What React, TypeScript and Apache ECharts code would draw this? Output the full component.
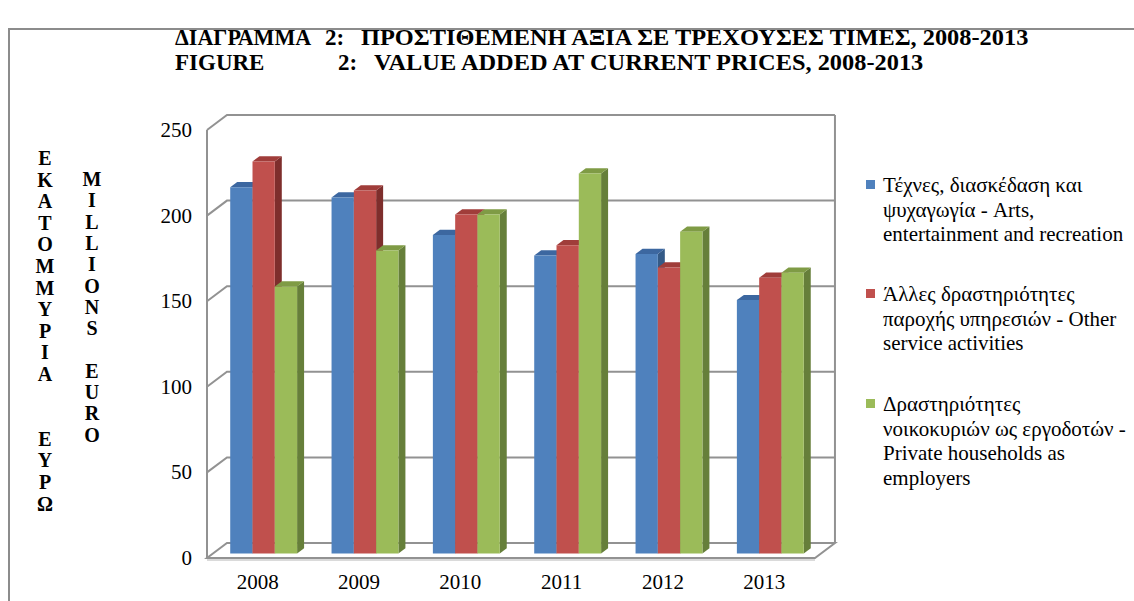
import React, { useEffect, useRef } from 'react';
import * as echarts from 'echarts';

const years = ['2008', '2009', '2010', '2011', '2012', '2013'];
const arts = [214, 208, 186, 174, 175, 148];
const otherServices = [229, 212, 198, 180, 167, 161];
const households = [156, 177, 198, 222, 188, 164];
const yTicks = [0, 50, 100, 150, 200, 250];

const seriesNames = [
  'Τέχνες, διασκέδαση και\nψυχαγωγία - Arts,\nentertainment and recreation',
  'Άλλες δραστηριότητες\nπαροχής υπηρεσιών - Other\nservice activities',
  'Δραστηριότητες\nνοικοκυριών ως εργοδοτών -\nPrivate households as\nemployers',
];

const yTitleGreek = 'ΕΚΑΤΟΜΜΥΡΙΑ  ΕΥΡΩ';
const yTitleEnglish = 'MILLIONS EURO';

const palette = [
  { front: '#4F81BD', top: '#3C67A0', side: '#345A87' },
  { front: '#C0504D', top: '#A03D3A', side: '#7E2E2C' },
  { front: '#9BBB59', top: '#7F9B45', side: '#667F3A' },
];

const FONT = "'Liberation Serif', 'Times New Roman', serif";
const GRID_COLOR = '#929292';

// depth geometry as fraction of one category band
const DEPTH_X = 0.197;
const DEPTH_Y = 0.148;
const BAR_FRONT = 0.3;
const BAR_DEPTH = 0.35;
const BAR_W = 0.22;

function frameRender(params: any, api: any) {
  const cs = params.coordSys;
  const band = api.size([1, 0])[0];
  const dx = band * DEPTH_X;
  const dy = band * DEPTH_Y;
  const x0 = cs.x;
  const x1 = cs.x + cs.width;
  const children: any[] = [];
  const y0 = api.coord([0, 0])[1];
  const yTop = api.coord([0, yTicks[yTicks.length - 1]])[1];
  children.push({
    type: 'polygon',
    shape: { points: [[x0, y0], [x1, y0], [x1 + dx, y0 - dy], [x0 + dx, y0 - dy]] },
    style: { fill: '#ffffff', stroke: GRID_COLOR, lineWidth: 2 },
  });
  children.push({
    type: 'line',
    shape: { x1: x0, y1: y0 + 2, x2: x1, y2: y0 + 2 },
    style: { stroke: '#b5b5b5', lineWidth: 1 },
  });
  children.push({
    type: 'line',
    shape: { x1: x0, y1: y0, x2: x0, y2: yTop },
    style: { stroke: GRID_COLOR, lineWidth: 2 },
  });
  children.push({
    type: 'line',
    shape: { x1: x1 + dx, y1: y0 - dy, x2: x1 + dx, y2: yTop - dy },
    style: { stroke: GRID_COLOR, lineWidth: 2 },
  });
  yTicks.forEach((v) => {
    if (v === 0) return;
    const y = api.coord([0, v])[1];
    children.push({
      type: 'polyline',
      shape: { points: [[x0, y], [x0 + dx, y - dy], [x1 + dx, y - dy]] },
      style: { stroke: GRID_COLOR, lineWidth: 2, fill: null },
    });
  });
  return { type: 'group', children };
}

function makeBarRender(idx: number) {
  const c = palette[idx];
  return (params: any, api: any) => {
    const cat = api.value(0);
    const val = api.value(1);
    const band = api.size([1, 0])[0];
    const [cx, yv] = api.coord([cat, val]);
    const yb = api.coord([cat, 0])[1];
    const fdx = band * DEPTH_X * BAR_FRONT;
    const fdy = band * DEPTH_Y * BAR_FRONT;
    const bdx = band * DEPTH_X * BAR_DEPTH;
    const bdy = band * DEPTH_Y * BAR_DEPTH;
    const w = band * BAR_W;
    const x = cx + fdx - 1.5 * w + idx * w;
    const yT = yv - fdy;
    const yB = yb - fdy;
    return {
      type: 'group',
      children: [
        {
          type: 'polygon',
          shape: { points: [[x + w, yT], [x + w + bdx, yT - bdy], [x + w + bdx, yB - bdy], [x + w, yB]] },
          style: { fill: c.side },
        },
        {
          type: 'polygon',
          shape: { points: [[x, yT], [x + bdx, yT - bdy], [x + w + bdx, yT - bdy], [x + w, yT]] },
          style: { fill: c.top },
        },
        {
          type: 'rect',
          shape: { x, y: yT, width: w, height: yB - yT },
          style: { fill: c.front },
        },
      ],
    };
  };
}

const seriesValues = [arts, otherServices, households];

function buildLegend(): any[] {
  const firstLineY = [185, 294, 404];
  const lh = 24.5;
  const out: any[] = [];
  seriesNames.forEach((name, i) => {
    out.push({
      type: 'rect',
      shape: { x: 866, y: firstLineY[i] - 5, width: 9, height: 9 },
      style: { fill: palette[i].front },
    });
    name.split('\n').forEach((line, k) => {
      out.push({
        type: 'text',
        x: 883,
        y: firstLineY[i] + k * lh,
        style: {
          text: line,
          fontFamily: FONT,
          fontSize: 21,
          fontWeight: 'normal',
          fill: '#000',
          verticalAlign: 'middle',
          align: 'left',
        },
      });
    });
  });
  return out;
}

function verticalLetters(str: string, cx: number, firstY: number, step: number): any[] {
  const out: any[] = [];
  Array.from(str).forEach((ch, i) => {
    if (ch === ' ') return;
    out.push({
      type: 'text',
      x: cx,
      y: firstY + i * step,
      style: { text: ch, fontFamily: FONT, fontSize: 20, fontWeight: 'bold', fill: '#000', align: 'center', verticalAlign: 'middle' },
    });
  });
  return out;
}

function titleText(text: string, x: number, y: number, scaleX = 1) {
  return {
    type: 'text',
    x,
    y,
    scaleX,
    style: { text, fontFamily: FONT, fontSize: 23, fontWeight: 'bold', fill: '#000', verticalAlign: 'middle', align: 'left' },
  };
}

export default function App() {
  const ref = useRef<HTMLDivElement>(null);
  useEffect(() => {
    const chart = echarts.init(ref.current!, null, { renderer: 'svg' });
    const option: any = {
      animation: false,
      backgroundColor: '#ffffff',
      grid: { left: 207, right: 319, top: 130, bottom: 43, containLabel: false },
      xAxis: {
        type: 'category',
        data: years,
        axisLine: { show: false },
        axisTick: { show: false },
        splitLine: { show: false },
        axisLabel: { fontFamily: FONT, fontSize: 21, color: '#000', margin: 13 },
      },
      yAxis: {
        type: 'value',
        min: 0,
        max: 250,
        interval: 50,
        axisLine: { show: false },
        axisTick: { show: false },
        splitLine: { show: false },
        axisLabel: { fontFamily: FONT, fontSize: 21, color: '#000', margin: 15 },
      },
      series: [
        {
          type: 'custom',
          name: 'frame',
          silent: true,
          clip: false,
          z: 1,
          renderItem: frameRender,
          data: [[0, 0]],
        },
        ...seriesValues.map((vals, i) => ({
          type: 'custom',
          name: seriesNames[i],
          clip: false,
          z: 2,
          renderItem: makeBarRender(i),
          data: vals.map((v, j) => [j, v]),
        })),
      ],
      graphic: [
        {
          type: 'rect',
          silent: true,
          shape: { x: 9, y: 29, width: 1300, height: 800 },
          style: { fill: null, stroke: '#8c8c8c', lineWidth: 2 },
        },
        titleText('ΔΙΑΓΡΑΜΜΑ', 175, 37.5, 0.96),
        titleText('2:', 325, 37.5),
        titleText('ΠΡΟΣΤΙΘΕΜΕΝΗ ΑΞΙΑ ΣΕ ΤΡΕΧΟΥΣΕΣ ΤΙΜΕΣ, 2008-2013', 361, 37.5, 1.06),
        titleText('FIGURE', 175, 62.5),
        titleText('2:', 338, 62.5),
        titleText('VALUE ADDED AT CURRENT PRICES, 2008-2013', 374, 62.5, 1.06),
        ...verticalLetters(yTitleGreek, 45, 158, 21.6),
        ...verticalLetters(yTitleEnglish, 92, 179, 21.3),
        ...buildLegend(),
      ],
    };
    chart.setOption(option);
    return () => chart.dispose();
  }, []);
  return (
    <div
      ref={ref}
      style={{ position: 'absolute', left: 0, top: 0, width: 1134, height: 601, background: '#fff' }}
    />
  );
}
